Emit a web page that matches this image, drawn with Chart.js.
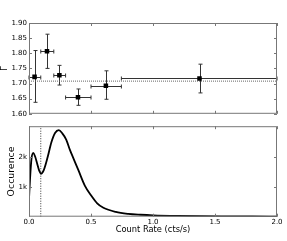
<!DOCTYPE html>
<html>
<head>
<meta charset="utf-8">
<script src="https://cdn.jsdelivr.net/npm/chart.js@4/dist/chart.umd.min.js"></script>
<style>
  html, body { margin: 0; padding: 0; background: #fff; }
  #wrap { position: relative; width: 287px; height: 241px; }
  canvas { position: absolute; left: 0; }
</style>
</head>
<body>
<div id="wrap">
  <canvas id="gammaChart" width="287" height="120" style="top:0;width:287px;height:120px"></canvas>
  <canvas id="rateChart" width="287" height="121" style="top:120px;width:287px;height:121px"></canvas>
</div>
<script>
// photon index per count-rate bin
const binLo = [0, 0.095, 0.2, 0.295, 0.5, 0.745]
const binHi = [0.095, 0.2, 0.295, 0.5, 0.745, 2.0]
const binMid = [0.045, 0.145, 0.245, 0.395, 0.62, 1.375]
const gamma = [1.722, 1.807, 1.727, 1.655, 1.693, 1.717]
const gammaLo = [1.638, 1.750, 1.695, 1.628, 1.648, 1.669]
const gammaHi = [1.809, 1.863, 1.760, 1.682, 1.742, 1.764]
const gammaMean = 1.708
const cutRate = 0.095

// count rate distribution
const curveRate = [0, 0.008, 0.02, 0.035, 0.05, 0.065, 0.08, 0.097, 0.12, 0.15, 0.18, 0.21, 0.24, 0.27, 0.3, 0.33, 0.36, 0.4, 0.45, 0.5, 0.55, 0.6, 0.7, 0.8, 0.9, 1.0, 1.2, 1.4, 1.6, 1.8, 2.0]
const curveCount = [600, 1250, 1950, 2150, 2020, 1800, 1580, 1450, 1580, 2000, 2500, 2820, 2920, 2800, 2600, 2250, 1950, 1550, 1050, 720, 450, 300, 160, 95, 65, 45, 25, 15, 10, 6, 4]

const rateTicks = [0, 0.5, 1.0, 1.5, 2.0]
const gammaTicks = [1.60, 1.65, 1.70, 1.75, 1.80, 1.85, 1.90]
const countTicks = [1000, 2000]

const tickFont = { family: "DejaVu Sans", size: 7 }

function framePlugin(xt, yt) {
  return {
    id: "frame",
    afterDraw(chart) {
      const { ctx, chartArea: a, scales: { x, y } } = chart
      ctx.save()
      ctx.strokeStyle = "#777"
      ctx.lineWidth = 1
      ctx.strokeRect(a.left + 0.5, a.top + 0.5, a.right - a.left - 1, a.bottom - a.top - 1)
      ctx.beginPath()
      xt.forEach(v => {
        const px = Math.round(x.getPixelForValue(v)) + 0.5
        ctx.moveTo(px, a.top); ctx.lineTo(px, a.top + 3)
        ctx.moveTo(px, a.bottom); ctx.lineTo(px, a.bottom - 3)
      })
      yt.forEach(v => {
        const py = Math.round(y.getPixelForValue(v)) + 0.5
        ctx.moveTo(a.left, py); ctx.lineTo(a.left + 3, py)
        ctx.moveTo(a.right, py); ctx.lineTo(a.right - 3, py)
      })
      ctx.stroke()
      ctx.restore()
    }
  }
}

const errorBars = {
  id: "errorBars",
  beforeDatasetsDraw(chart) {
    const { ctx, scales: { x, y } } = chart
    ctx.save()
    ctx.strokeStyle = "#333"
    ctx.lineWidth = 1
    ctx.beginPath()
    gamma.forEach((g, i) => {
      const cx = x.getPixelForValue(binMid[i])
      const cy = Math.round(y.getPixelForValue(g)) + 0.5
      const x0 = x.getPixelForValue(binLo[i])
      const x1 = x.getPixelForValue(binHi[i])
      const y0 = y.getPixelForValue(gammaLo[i])
      const y1 = y.getPixelForValue(gammaHi[i])
      const vx = Math.round(cx) + 0.5
      ctx.moveTo(x0, cy); ctx.lineTo(x1, cy)
      ctx.moveTo(x0, cy - 2); ctx.lineTo(x0, cy + 2)
      ctx.moveTo(x1, cy - 2); ctx.lineTo(x1, cy + 2)
      ctx.moveTo(vx, y0); ctx.lineTo(vx, y1)
      ctx.moveTo(vx - 2, y0); ctx.lineTo(vx + 2, y0)
      ctx.moveTo(vx - 2, y1); ctx.lineTo(vx + 2, y1)
    })
    ctx.stroke()
    ctx.restore()
  }
}

new Chart(document.getElementById("gammaChart"), {
  type: "scatter",
  data: {
    datasets: [
      {
        data: binMid.map((r, i) => ({ x: r, y: gamma[i] })),
        pointStyle: "rect",
        pointRadius: 3.2,
        backgroundColor: "#000",
        borderColor: "#000",
        borderWidth: 0,
      },
      {
        type: "line",
        data: [{ x: 0, y: gammaMean }, { x: 2, y: gammaMean }],
        borderColor: "#666",
        borderWidth: 1,
        borderDash: [1, 1],
        pointRadius: 0,
      },
    ],
  },
  options: {
    responsive: false,
    animation: false,
    layout: { padding: { top: 23, right: 10, bottom: 4, left: 0 } },
    plugins: { legend: { display: false }, tooltip: { enabled: false } },
    scales: {
      x: { type: "linear", min: 0, max: 2, display: false },
      y: {
        min: 1.6,
        max: 1.9,
        afterBuildTicks: s => { s.ticks = gammaTicks.map(v => ({ value: v })) },
        afterFit: s => { s.width = 29 },
        grid: { display: false, drawTicks: false },
        border: { display: false },
        ticks: { font: tickFont, color: "#000", padding: 2, callback: v => v.toFixed(2) },
        title: { display: true, text: "Γ", font: { family: "DejaVu Sans", size: 8 }, color: "#000", padding: 0 },
      },
    },
  },
  plugins: [errorBars, framePlugin(rateTicks, gammaTicks)],
})

new Chart(document.getElementById("rateChart"), {
  type: "line",
  data: {
    datasets: [
      {
        data: curveRate.map((r, i) => ({ x: r, y: curveCount[i] })),
        borderColor: "#000",
        borderWidth: 1.8,
        pointRadius: 0,
        cubicInterpolationMode: "monotone",
      },
      {
        data: [{ x: cutRate, y: 0 }, { x: cutRate, y: 3050 }],
        borderColor: "#333",
        borderWidth: 1,
        borderDash: [1, 1.5],
        pointRadius: 0,
      },
    ],
  },
  options: {
    responsive: false,
    animation: false,
    layout: { padding: { top: 4, right: 10, bottom: 0, left: 0 } },
    plugins: { legend: { display: false }, tooltip: { enabled: false } },
    scales: {
      x: {
        type: "linear",
        min: 0,
        max: 2,
        afterBuildTicks: s => { s.ticks = rateTicks.map(v => ({ value: v })) },
        afterFit: s => { s.height = 24.3 },
        grid: { display: false, drawTicks: false },
        border: { display: false },
        ticks: { font: tickFont, color: "#000", padding: 1, autoSkip: false, maxRotation: 0, callback: v => v.toFixed(1) },
        title: { display: true, text: "Count Rate (cts/s)", font: { family: "DejaVu Sans", size: 8.3 }, color: "#000", padding: { top: 0, bottom: 6 } },
      },
      y: {
        type: "linear",
        min: 0,
        max: 3050,
        afterBuildTicks: s => { s.ticks = countTicks.map(v => ({ value: v })) },
        afterFit: s => { s.width = 29 },
        grid: { display: false, drawTicks: false },
        border: { display: false },
        ticks: { font: tickFont, color: "#000", padding: 2, callback: v => v / 1000 + "k" },
        title: { display: true, text: "Occurence", font: { family: "DejaVu Sans", size: 9.4 }, color: "#000", padding: { top: 6, bottom: 0 } },
      },
    },
  },
  plugins: [framePlugin(rateTicks, countTicks)],
})
</script>
</body>
</html>
